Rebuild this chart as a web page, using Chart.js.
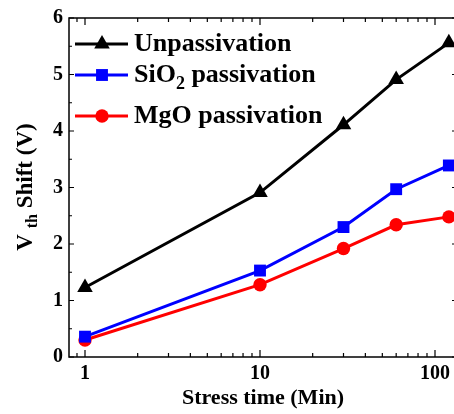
<!DOCTYPE html>
<html>
<head>
<meta charset="utf-8">
<script src="https://cdn.jsdelivr.net/npm/chart.js@4.4.0/dist/chart.umd.min.js"></script>
<style>
  html, body { margin: 0; padding: 0; overflow: hidden; background: #fff; }
  #frame { width: 454px; height: 414px; overflow: hidden; position: relative; }
  canvas { display: block; }
</style>
</head>
<body>
<div id="frame"><canvas id="shiftChart" width="466" height="414"></canvas></div>
<script>
const stressTimes = [1, 10, 30, 60, 120];
const unpassivation = [1.23, 2.91, 4.11, 4.91, 5.56];
const sio2Passivation = [0.36, 1.53, 2.30, 2.97, 3.39];
const mgoPassivation = [0.30, 1.28, 1.92, 2.34, 2.48];
const xTickLabels = [1, 10, 100];
const xMinorTicks = [0.9, 2, 3, 4, 5, 6, 7, 8, 9, 20, 30, 40, 50, 60, 70, 80, 90];
const yTickLabels = [0, 1, 2, 3, 4, 5, 6];

const serif = "'Liberation Serif', 'Times New Roman', serif";

function toPoints(values) {
    return stressTimes.map((t, i) => ({ x: t, y: values[i] }));
}

const seriesStyle = [
    { label: "Unpassivation", color: "#000000", shape: "triangle", radius: 9 },
    { label: "SiO2 passivation", color: "#0000ff", shape: "rect", radius: 8.4 },
    { label: "MgO passivation", color: "#ff0000", shape: "circle", radius: 6.7 },
];

const shiftData = {
    datasets: [unpassivation, sio2Passivation, mgoPassivation].map((values, i) => ({
        label: seriesStyle[i].label,
        data: toPoints(values),
        borderColor: seriesStyle[i].color,
        backgroundColor: seriesStyle[i].color,
        pointStyle: seriesStyle[i].shape,
        pointRadius: seriesStyle[i].radius,
        pointHoverRadius: seriesStyle[i].radius,
        borderWidth: 3,
        pointBorderWidth: 0,
        tension: 0,
    })),
};

// keep 1 -> 85px and 175px per decade, whatever the box ends up as
const xAnchorPlugin = {
    id: "xAnchor",
    afterLayout(chart) {
        const xs = chart.scales.x;
        xs.min = Math.pow(10, (xs.left - 85) / 175);
        xs.max = Math.pow(10, (xs.right - 85) / 175);
        xs.configure();
    },
};

// frame, inside ticks, legend and y title
const decorPlugin = {
    id: "decor",
    afterDraw(chart) {
        const ctx = chart.ctx;
        const area = chart.chartArea;
        const xs = chart.scales.x;
        const ys = chart.scales.y;
        ctx.save();
        ctx.strokeStyle = "#000";
        ctx.lineWidth = 1.5;
        ctx.strokeRect(area.left, area.top, area.right - area.left, area.bottom - area.top);

        ctx.lineWidth = 1.2;
        ctx.beginPath();
        for (let v = 0; v <= 6; v += 0.5) {
            const y = ys.getPixelForValue(v);
            const len = Number.isInteger(v) ? 5 : 3;
            ctx.moveTo(area.left, y); ctx.lineTo(area.left + len, y);
            ctx.moveTo(area.right, y); ctx.lineTo(area.right - len, y);
        }
        const tick = (v, len) => {
            const x = xs.getPixelForValue(v);
            ctx.moveTo(x, area.bottom); ctx.lineTo(x, area.bottom - len);
            ctx.moveTo(x, area.top); ctx.lineTo(x, area.top + len);
        };
        xMinorTicks.forEach(v => tick(v, 4));
        xTickLabels.forEach(v => tick(v, 7));
        ctx.stroke();

        // legend
        const rows = [44, 75, 116];
        const big = "bold 26px " + serif;
        chart.data.datasets.forEach((ds, i) => {
            const st = seriesStyle[i];
            const y = rows[i];
            ctx.strokeStyle = st.color;
            ctx.fillStyle = st.color;
            ctx.lineWidth = 3;
            ctx.beginPath();
            ctx.moveTo(75, y); ctx.lineTo(128, y);
            ctx.stroke();
            Chart.helpers.drawPoint(ctx, { pointStyle: st.shape, radius: st.radius, borderWidth: 0 }, 102, y);
            ctx.fillStyle = "#000";
            ctx.font = big;
            ctx.textBaseline = "middle";
            ctx.textAlign = "left";
            if (i === 1) {
                ctx.fillText("SiO", 134, y);
                const w = ctx.measureText("SiO").width;
                ctx.font = "bold 18px " + serif;
                ctx.fillText("2", 134 + w, y + 9);
                const w2 = ctx.measureText("2").width;
                ctx.font = big;
                ctx.fillText(" passivation", 134 + w + w2, y);
            } else {
                ctx.fillText(ds.label, 134, y);
            }
        });

        // y axis title with subscript
        ctx.translate(26, 187);
        ctx.rotate(-Math.PI / 2);
        ctx.fillStyle = "#000";
        ctx.textBaseline = "middle";
        const tf = "bold 23px " + serif, sf = "bold 16px " + serif;
        ctx.font = tf;
        const w1 = ctx.measureText("V ").width;
        const w3 = ctx.measureText(" Shift (V)").width;
        ctx.font = sf;
        const w2 = ctx.measureText("th").width;
        const x0 = -(w1 + w2 + w3) / 2;
        ctx.textAlign = "left";
        ctx.font = tf;
        ctx.fillText("V ", x0, 0);
        ctx.font = sf;
        ctx.fillText("th", x0 + w1, 7);
        ctx.font = tf;
        ctx.fillText(" Shift (V)", x0 + w1 + w2, 0);
        ctx.restore();
    },
};

const shiftConfig = {
    type: "line",
    data: shiftData,
    options: {
        responsive: false,
        animation: false,
        layout: { padding: { top: 18, right: 2, left: 0, bottom: 0 } },
        plugins: {
            legend: { display: false },
            tooltip: { enabled: false },
        },
        scales: {
            x: {
                type: "logarithmic",
                min: 0.81,
                max: 135.3,
                grid: { display: false, drawTicks: false },
                border: { display: false },
                afterBuildTicks: (scale) => {
                    scale.ticks = xTickLabels.map(v => ({ value: v, major: true }));
                },
                afterFit: (scale) => {
                    scale.height = 57;
                    scale.paddingLeft = 0;
                    scale.paddingRight = 0;
                },
                ticks: {
                    color: "#000",
                    padding: 5,
                    maxRotation: 0,
                    autoSkip: false,
                    font: { family: serif, weight: "bold", size: 20 },
                    callback: (v) => String(v),
                },
                title: {
                    display: true,
                    text: "Stress time (Min)",
                    color: "#000",
                    font: { family: serif, weight: "bold", size: 22 },
                    padding: { top: 0, bottom: 2 },
                },
            },
            y: {
                min: 0,
                max: 6,
                grid: { display: false, drawTicks: false },
                border: { display: false },
                afterBuildTicks: (scale) => {
                    scale.ticks = yTickLabels.map(v => ({ value: v }));
                },
                afterFit: (scale) => {
                    scale.width = 69;
                    scale.paddingTop = 0;
                    scale.paddingBottom = 0;
                },
                ticks: {
                    color: "#000",
                    padding: 6,
                    font: { family: serif, weight: "bold", size: 20 },
                },
            },
        },
    },
    plugins: [xAnchorPlugin, decorPlugin],
};

const shiftChart = new Chart(document.getElementById("shiftChart"), shiftConfig);
</script>
</body>
</html>
